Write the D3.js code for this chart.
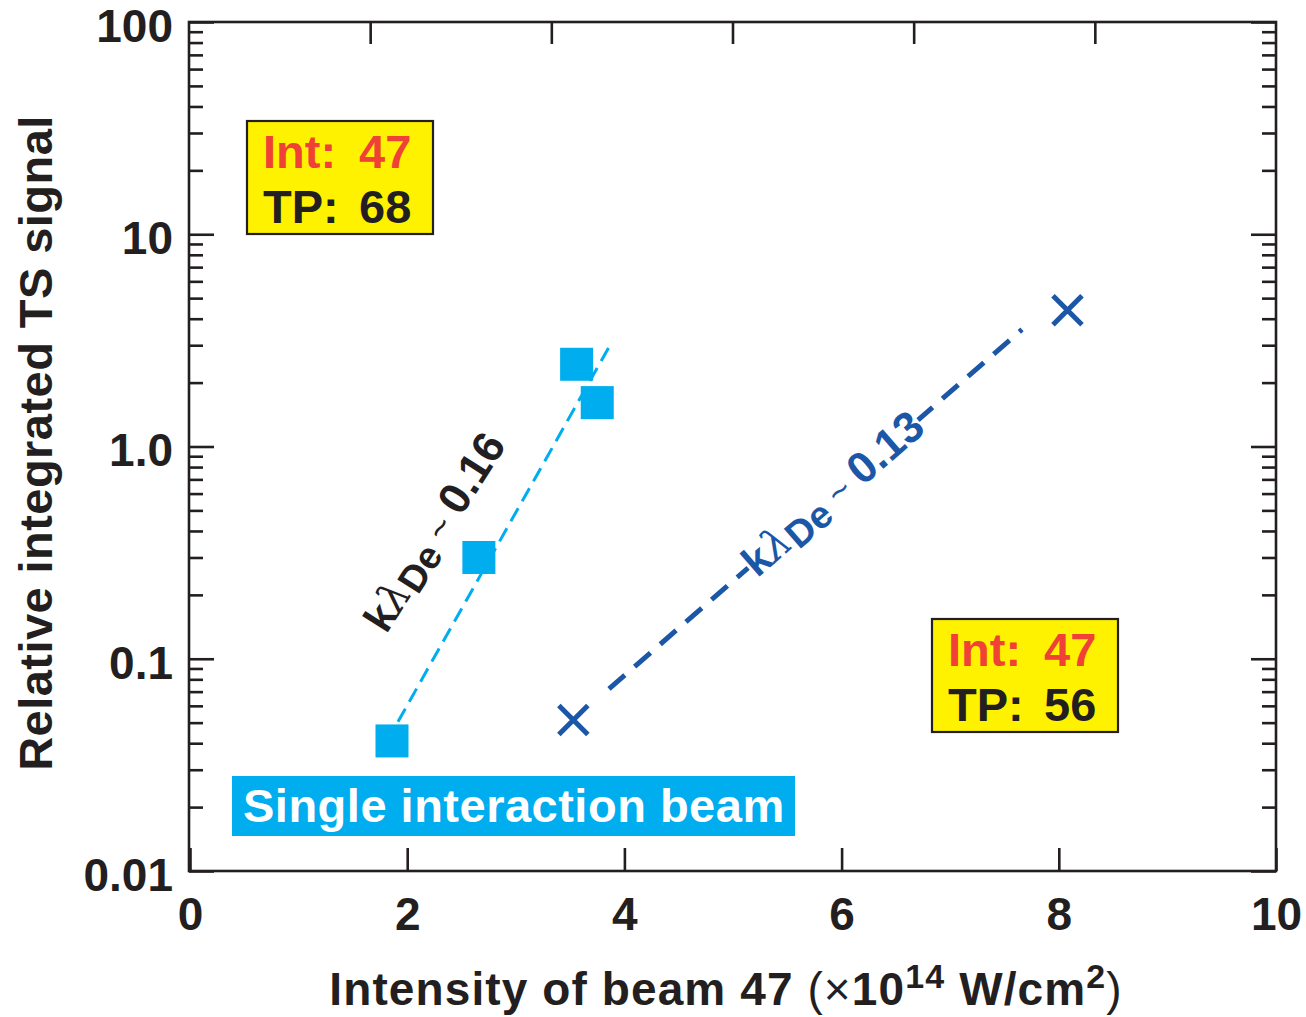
<!DOCTYPE html>
<html><head><meta charset="utf-8">
<script src="https://cdn.jsdelivr.net/npm/d3@7"></script>
<style>
body{margin:0;background:#fff}
text{font-family:"Liberation Sans",Arial,Helvetica,sans-serif;}
</style>
</head><body>
<svg id="c" width="1306" height="1017"></svg>
<script>
// ---- data ----
const xTickValues = [0, 2, 4, 6, 8, 10];
const xTickLabels = ["0", "2", "4", "6", "8", "10"];
const yTickValues = [0.01, 0.1, 1, 10, 100];
const yTickLabels = ["0.01", "0.1", "1.0", "10", "100"];
const topTickValues = [1, 2, 3, 4, 5];
const squareX = [1.86, 2.66, 3.56, 3.75];
const squareY = [0.041, 0.30, 2.44, 1.61];
const crossX = [3.53, 8.08];
const crossY = [0.0515, 4.38];
const fitCyanX = [1.915, 3.877];
const fitCyanY = [0.0505, 3.06];
const fitBlueX = [3.858, 7.661];
const fitBlueY = [0.0721, 3.56];
const box1Lines = [["Int:", "47"], ["TP:", "68"]];
const box2Lines = [["Int:", "47"], ["TP:", "56"]];

// ---- layout ----
const L = 190, R = 1276, T = 22, B = 871;
const ink = "#231f20", cyan = "#00aeef", blue = "#1b57a6", red = "#ef4136", yellow = "#fff200";
const svg = d3.select("#c");
const x = d3.scaleLinear().domain([0, 10]).range([L, R]);
const xTop = d3.scaleLinear().domain([0, 6]).range([189, R]);
const y = d3.scaleLog().domain([0.01, 100]).range([B, T]);

const minor = [];
[0.01, 0.1, 1, 10].forEach(d => { for (let m = 2; m <= 9; m++) minor.push(+(m * d).toPrecision(3)); });

function styleAxis(g) {
  g.select(".domain").remove();
  g.selectAll(".tick line").attr("stroke", ink).attr("stroke-width", 2.6);
  g.selectAll(".tick text").attr("fill", ink).attr("font-size", 46).attr("font-weight", "bold")
    .attr("font-family", '"Liberation Sans",Arial,sans-serif');
}

// bottom axis
svg.append("g").attr("transform", `translate(0,${B})`)
  .call(d3.axisBottom(x).tickValues(xTickValues).tickFormat((d, i) => xTickLabels[i])
    .tickSizeInner(-23).tickSizeOuter(0).tickPadding(26)).call(styleAxis);
// top axis
svg.append("g").attr("transform", `translate(0,${T})`)
  .call(d3.axisTop(xTop).tickValues(topTickValues).tickFormat("").tickSizeInner(-22).tickSizeOuter(0)).call(styleAxis);
// left axis major + labels
const gl = svg.append("g").attr("transform", `translate(189,0)`)
  .call(d3.axisLeft(y).tickValues(yTickValues).tickFormat((d, i) => yTickLabels[i])
    .tickSizeInner(-25).tickSizeOuter(0).tickPadding(16)).call(styleAxis);
gl.selectAll(".tick text").attr("dy", "0.42em");
svg.append("g").attr("transform", `translate(189,0)`)
  .call(d3.axisLeft(y).tickValues(minor).tickFormat("").tickSizeInner(-14).tickSizeOuter(0)).call(styleAxis);
// right axis
svg.append("g").attr("transform", `translate(${R},0)`)
  .call(d3.axisRight(y).tickValues(yTickValues).tickFormat("").tickSizeInner(-25).tickSizeOuter(0)).call(styleAxis);
svg.append("g").attr("transform", `translate(${R},0)`)
  .call(d3.axisRight(y).tickValues(minor).tickFormat("").tickSizeInner(-14).tickSizeOuter(0)).call(styleAxis);

// frame
svg.append("rect").attr("x", 189).attr("y", T).attr("width", R - 189).attr("height", B - T)
  .attr("fill", "none").attr("stroke", ink).attr("stroke-width", 2.6);

// fit lines
const line = d3.line().x(d => x(d[0])).y(d => y(d[1]));
svg.append("path").attr("d", line(d3.zip(fitCyanX, fitCyanY))).attr("fill", "none")
  .attr("stroke", cyan).attr("stroke-width", 3).attr("stroke-dasharray", "15 8");
svg.append("path").attr("d", line(d3.zip(fitBlueX, fitBlueY))).attr("fill", "none")
  .attr("stroke", blue).attr("stroke-width", 5).attr("stroke-dasharray", "21 13");

// squares
const S = 33;
svg.selectAll(".sq").data(d3.zip(squareX, squareY)).join("rect")
  .attr("x", d => x(d[0]) - S / 2).attr("y", d => y(d[1]) - S / 2)
  .attr("width", S).attr("height", S).attr("fill", cyan);

// crosses
const C = 14.5;
svg.selectAll(".cr").data(d3.zip(crossX, crossY)).join("path")
  .attr("d", d => { const cx = x(d[0]), cy = y(d[1]);
    return `M${cx - C},${cy - C}L${cx + C},${cy + C}M${cx - C},${cy + C}L${cx + C},${cy - C}`; })
  .attr("stroke", blue).attr("stroke-width", 5).attr("fill", "none");

// rotated labels
function kLabel(cx, cy, ang, color, num, bg) {
  const g = svg.append("g").attr("transform", `translate(${cx},${cy}) rotate(${ang})`);
  const rect = g.append("rect").attr("fill", "#fff");
  const t = g.append("text").attr("text-anchor", "middle").attr("dy", "0.3em")
    .attr("font-size", 42).attr("font-weight", "bold").attr("fill", color);
  t.append("tspan").text("k");
  t.append("tspan").attr("font-weight", "normal").attr("font-family", '"DejaVu Serif",serif').attr("font-style", "italic").text("λ");
  t.append("tspan").attr("dy", 6).attr("font-size", 38).text("De");
  t.append("tspan").attr("dy", -6).attr("font-weight", "normal").attr("font-size", 36).text(" ~ ");
  t.append("tspan").attr("font-size", 44).text(num);
  if (bg) {
    const bb = t.node().getBBox();
    rect.attr("x", bb.x).attr("y", bb.y).attr("width", bb.width).attr("height", bb.height);
  } else rect.remove();
}
kLabel(436, 533, -57.5, ink, "0.16", false);
kLabel(834, 495, -41, blue, "0.13", true);

// yellow boxes
function yBox(bx, by, lines) {
  svg.append("rect").attr("x", bx).attr("y", by).attr("width", 186).attr("height", 113)
    .attr("fill", yellow).attr("stroke", ink).attr("stroke-width", 2.2);
  lines.forEach((ln, i) => {
    const col = i === 0 ? red : ink;
    const base = by + 47 + i * 55;
    svg.append("text").attr("x", bx + 16).attr("y", base).attr("font-size", 47).attr("font-weight", "bold").attr("fill", col).text(ln[0]);
    svg.append("text").attr("x", bx + 112).attr("y", base).attr("font-size", 47).attr("font-weight", "bold").attr("fill", col).text(ln[1]);
  });
}
yBox(247, 121, box1Lines);
yBox(932, 619, box2Lines);

// Single interaction beam
svg.append("rect").attr("x", 232).attr("y", 776).attr("width", 563).attr("height", 60).attr("fill", cyan);
svg.append("text").attr("x", 243).attr("y", 822).attr("font-size", 47).attr("font-weight", "bold")
  .attr("letter-spacing", 0.5).attr("fill", "#fff").text("Single interaction beam");

// axis titles
const xt = svg.append("text").attr("x", 726).attr("y", 1005).attr("text-anchor", "middle")
  .attr("font-size", 46).attr("font-weight", "bold").attr("letter-spacing", 1.1).attr("fill", ink);
xt.append("tspan").text("Intensity of beam 47 ");
xt.append("tspan").attr("font-weight", "normal").text("(×");
xt.append("tspan").text("10");
xt.append("tspan").attr("font-size", 34).attr("dy", -17).text("14");
xt.append("tspan").attr("dy", 17).text(" W/cm");
xt.append("tspan").attr("font-size", 34).attr("dy", -17).text("2");
xt.append("tspan").attr("dy", 17).attr("font-weight", "normal").text(")");

svg.append("text").attr("transform", "translate(52,443) rotate(-90)").attr("text-anchor", "middle")
  .attr("font-size", 47).attr("font-weight", "bold").attr("letter-spacing", 0.45).attr("fill", ink)
  .text("Relative integrated TS signal");
</script>
</body></html>
